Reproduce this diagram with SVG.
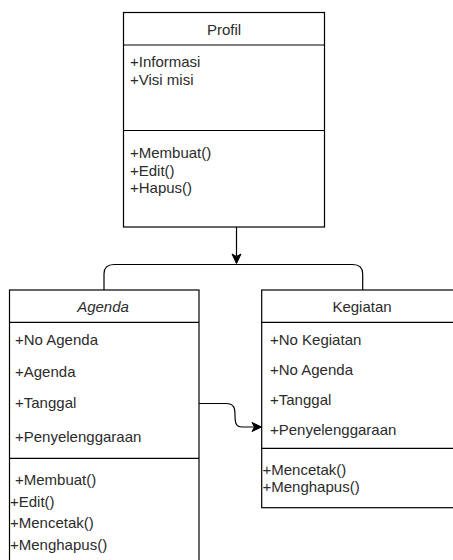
<svg xmlns="http://www.w3.org/2000/svg" width="453" height="560" viewBox="0 0 453 560">
<defs>
<style>
.box{fill:#fff;stroke:#000;stroke-width:1.2}
.ln{stroke:#000;stroke-width:1.2;fill:none}
text{font-family:"Liberation Sans",Arial,sans-serif;font-size:15px;fill:#2b2b2b}
.c{text-anchor:middle}
.i{font-style:italic}
</style>
</defs>
<rect width="453" height="560" fill="#fff"/>
<g id="profil">
<rect class="box" x="123.5" y="12.5" width="201" height="214.5"/>
<line class="ln" x1="123.5" y1="45" x2="324.5" y2="45"/>
<line class="ln" x1="123.5" y1="130.5" x2="324.5" y2="130.5"/>
<text class="c" x="224" y="35">Profil</text>
<text x="130" y="66.5">+Informasi</text>
<text x="130" y="84.5">+Visi misi</text>
<text x="130" y="158">+Membuat()</text>
<text x="130" y="175.5">+Edit()</text>
<text x="130" y="193">+Hapus()</text>
</g>
<g id="agenda">
<rect class="box" x="9.5" y="290" width="189.5" height="280"/>
<line class="ln" x1="9.5" y1="322.3" x2="199" y2="322.3"/>
<line class="ln" x1="9.5" y1="458.3" x2="199" y2="458.3"/>
<text class="c i" x="103" y="311.5">Agenda</text>
<text x="15" y="345">+No Agenda</text>
<text x="15" y="376.5">+Agenda</text>
<text x="15" y="408">+Tanggal</text>
<text x="15" y="441.5">+Penyelenggaraan</text>
<text x="15" y="485">+Membuat()</text>
<text x="10" y="506.5">+Edit()</text>
<text x="10" y="528">+Mencetak()</text>
<text x="10" y="550">+Menghapus()</text>
</g>
<g id="kegiatan">
<rect class="box" x="261.7" y="290" width="200" height="217.7"/>
<line class="ln" x1="261.7" y1="322.3" x2="462" y2="322.3"/>
<line class="ln" x1="261.7" y1="448.3" x2="462" y2="448.3"/>
<text class="c" x="362" y="311.5">Kegiatan</text>
<text x="270" y="345">+No Kegiatan</text>
<text x="270" y="375">+No Agenda</text>
<text x="270" y="405">+Tanggal</text>
<text x="270" y="435">+Penyelenggaraan</text>
<text x="262.5" y="475">+Mencetak()</text>
<text x="262.5" y="491.5">+Menghapus()</text>
</g>
<g id="connectors">
<line class="ln" x1="236.5" y1="227" x2="236.5" y2="256"/>
<polygon points="236.5,263.5 232,254 236.5,256.5 241,254" fill="#000" stroke="#000" stroke-width="1"/>
<path class="ln" d="M104,290 V274 Q104,264.5 114,264.5 H352.7 Q362.7,264.5 362.7,274 V290"/>
<path class="ln" d="M199,403.5 H226 C234,403.5 235,408 235,415 C235,423 236,427 242,427 H255"/>
<polygon points="261.5,427 252,422.5 254.5,427 252,431.5" fill="#000" stroke="#000" stroke-width="1"/>
</g>
</svg>
